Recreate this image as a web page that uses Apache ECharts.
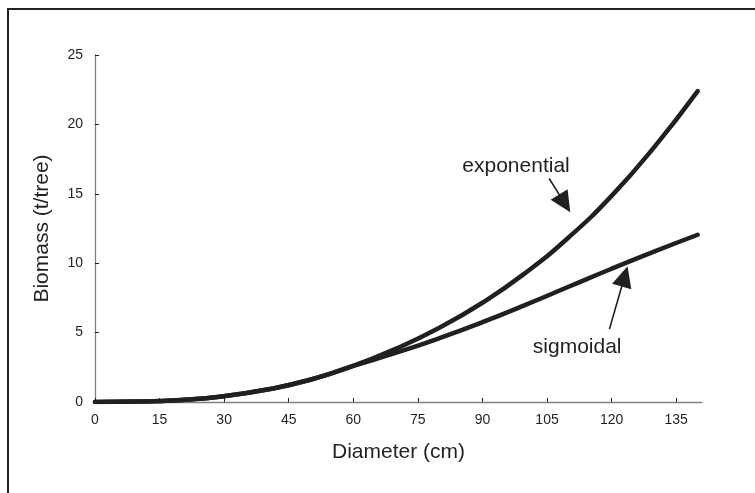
<!DOCTYPE html>
<html>
<head>
<meta charset="utf-8">
<script src="https://cdn.jsdelivr.net/npm/echarts@6/dist/echarts.min.js"></script>
<style>
	html, body { margin: 0; padding: 0; background: #fff; }
	#chart { width: 755px; height: 493px; }
</style>
</head>
<body>
<div id="chart"></div>
<script>
// diameter (cm) and biomass (t/tree)
var diameters   = [0, 10, 20, 30, 40, 50, 60, 70, 80, 90, 100, 110, 120, 130, 140];
var exponential = [0, 0.03, 0.15, 0.42, 0.9, 1.6, 2.6, 3.85, 5.35, 7.15, 9.3, 11.85, 14.85, 18.4, 22.4];
var sigmoidal   = [0, 0.03, 0.15, 0.42, 0.9, 1.6, 2.6, 3.55, 4.6, 5.75, 7.0, 8.3, 9.6, 10.85, 12.05];

var xTicks = [0, 15, 30, 45, 60, 75, 90, 105, 120, 135];

// callouts, in data units
var calloutTexts = ['exponential', 'sigmoidal'];
var calloutLabelAt = [[97.8, 17.0], [112.0, 3.96]];
var calloutFrom = [[105.5, 16.1], [119.5, 5.25]];
var calloutTip = [[110.4, 13.67], [123.7, 9.78]];

var ink = '#231f20';
var axisGrey = '#808080';
var fontFamily = '"Liberation Sans", Arial, sans-serif';

function pairs(xs, ys) {
	var out = [];
	for (var i = 0; i < xs.length; i++) out.push([xs[i], ys[i]]);
	return out;
}

var chart = echarts.init(document.getElementById('chart'));

var lineSeries = function (name, values) {
	return {
		name: name,
		type: 'line',
		data: pairs(diameters, values),
		smooth: true,
		symbol: 'none',
		silent: true,
		lineStyle: { color: ink, width: 4.5, cap: 'round' }
	};
};

chart.setOption({
	animation: false,
	grid: { left: 95, right: 53, top: 55, bottom: 91 },
	xAxis: {
		type: 'value',
		min: 0,
		max: 141,
		interval: 15,
		name: 'Diameter (cm)',
		nameLocation: 'middle',
		nameGap: 40,
		nameTextStyle: { fontSize: 21, color: ink, fontFamily: fontFamily },
		axisLine: { show: true, lineStyle: { color: axisGrey, width: 1.3 } },
		axisTick: { inside: true, length: 4, lineStyle: { color: ink }, customValues: xTicks },
		axisLabel: { margin: 11, fontSize: 14, color: ink, fontFamily: fontFamily, customValues: xTicks },
		splitLine: { show: false }
	},
	yAxis: {
		type: 'value',
		min: 0,
		max: 25,
		interval: 5,
		name: 'Biomass (t/tree)',
		nameLocation: 'middle',
		nameGap: 42,
		nameTextStyle: { fontSize: 21, color: ink, fontFamily: fontFamily },
		axisLine: { show: true, lineStyle: { color: axisGrey, width: 1.3 } },
		axisTick: { inside: true, length: 4, lineStyle: { color: ink } },
		axisLabel: { margin: 12, fontSize: 14, color: ink, fontFamily: fontFamily },
		splitLine: { show: false }
	},
	series: [
		lineSeries('exponential', exponential),
		lineSeries('sigmoidal', sigmoidal)
	]
});

// frame + callout arrows, placed through the chart's own scales
function drawCallouts() {
	var els = [{
		type: 'rect',
		shape: { x: 8, y: 9, width: 900, height: 700 },
		style: { fill: null, stroke: ink, lineWidth: 2 },
		silent: true
	}];
	for (var i = 0; i < calloutTexts.length; i++) {
		var p = chart.convertToPixel({ gridIndex: 0 }, calloutLabelAt[i]);
		var a = chart.convertToPixel({ gridIndex: 0 }, calloutFrom[i]);
		var t = chart.convertToPixel({ gridIndex: 0 }, calloutTip[i]);
		var dx = t[0] - a[0], dy = t[1] - a[1];
		var len = Math.sqrt(dx * dx + dy * dy);
		var ux = dx / len, uy = dy / len;
		var headLen = 21, headHalf = 10;
		var bx = t[0] - ux * headLen, by = t[1] - uy * headLen;
		els.push({
			type: 'text',
			x: p[0], y: p[1],
			style: {
				text: calloutTexts[i], fill: ink, fontSize: 21, fontFamily: fontFamily,
				align: 'center', verticalAlign: 'middle'
			},
			silent: true
		});
		els.push({
			type: 'line',
			shape: { x1: a[0], y1: a[1], x2: bx + ux * 2, y2: by + uy * 2 },
			style: { stroke: ink, lineWidth: 1.6 },
			silent: true
		});
		els.push({
			type: 'polygon',
			shape: { points: [
				[t[0], t[1]],
				[bx - uy * headHalf, by + ux * headHalf],
				[bx + uy * headHalf, by - ux * headHalf]
			] },
			style: { fill: ink },
			silent: true
		});
	}
	chart.setOption({ graphic: { elements: els } });
}
drawCallouts();
</script>
</body>
</html>
